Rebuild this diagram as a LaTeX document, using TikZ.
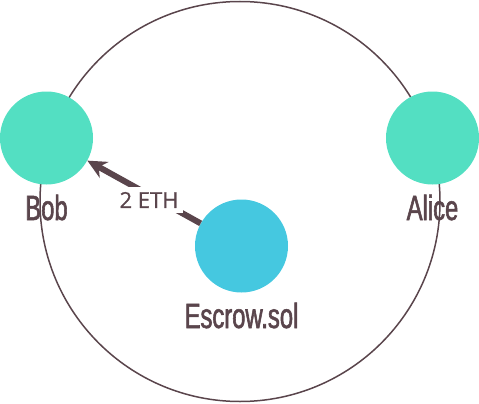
\documentclass[tikz,border=0pt]{standalone}
\usepackage{fontspec}
\setmainfont{Open Sans}
\newfontfamily\condfont[FakeStretch=0.68,FakeBold=1.6]{Liberation Sans}
\newfontfamily\labfont[FakeBold=0.8]{Open Sans}
\usetikzlibrary{arrows.meta}
\definecolor{ink}{HTML}{5A454C}
\definecolor{mint}{HTML}{53DFC2}
\definecolor{sky}{HTML}{45C8E0}
\begin{document}
\begin{tikzpicture}[x=1pt,y=-1pt,
  party/.style={circle,minimum size=93pt,inner sep=0pt,fill=mint},
  contract/.style={circle,minimum size=93pt,inner sep=0pt,fill=sky},
  nametext/.style={anchor=base,inner sep=0pt,text=ink,font=\condfont\fontsize{35}{35}\selectfont},
  flow/.style={draw=ink,line width=6pt,-{Stealth[length=19pt,width=18pt,inset=6pt]}},
  amount/.style={fill=white,inner sep=5pt,text=ink,font=\labfont\fontsize{22}{22}\selectfont}]
\useasboundingbox (0,0) rectangle (479,404);
\node[circle,draw=ink,line width=1.5pt,minimum size=400pt,inner sep=0pt] (ring) at (240,201.5) {};
\node[party] (bob) at (46.5,138) {};
\node[party] (alice) at (432.5,138) {};
\node[contract] (escrow) at (241.5,246) {};
\node[nametext] (boblbl) at (46.5,220) {Bob};
\node[nametext] (alicelbl) at (432.5,220) {Alice};
\node[nametext] (escrowlbl) at (241.5,328) {Escrow.sol};
\draw[flow] (escrow) -- (bob);
\node[amount] (eth) at (149,200) {2 ETH};
\end{tikzpicture}
\end{document}
